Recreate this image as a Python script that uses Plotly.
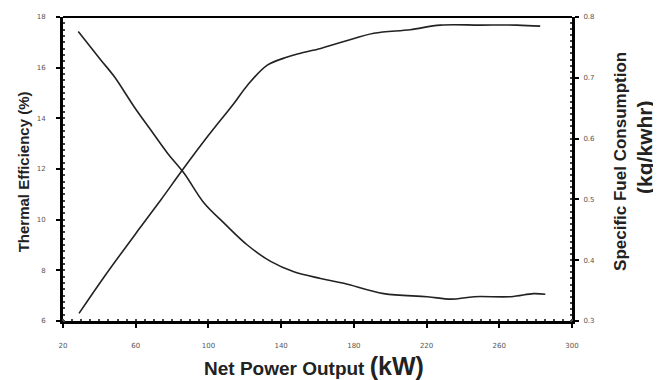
import plotly.graph_objects as go

# Thermal efficiency (%) vs net power output (kW)
eff_power = [28.8, 42.7, 62.8, 73.8, 85.7, 99.5, 114, 121.4, 132.4, 143.4, 150.7, 161.7, 174.5, 191, 211, 227.6, 249.5, 269.7, 282.5]
eff_value = [6.3, 7.75, 9.72, 10.78, 11.96, 13.28, 14.59, 15.3, 16.1, 16.42, 16.57, 16.76, 17.03, 17.36, 17.5, 17.68, 17.68, 17.68, 17.64]

# Specific fuel consumption (kg/kWhr) vs net power output (kW)
sfc_power = [28.4, 40.9, 48.2, 59.2, 68.3, 77.5, 86.6, 97.6, 108.6, 121.4, 134.2, 147, 161.7, 174.5, 196.4, 220.3, 233.4, 246.2, 266.4, 278.8, 285.3]
sfc_value = [0.776, 0.729, 0.702, 0.652, 0.614, 0.576, 0.543, 0.494, 0.461, 0.425, 0.398, 0.381, 0.370, 0.362, 0.345, 0.340, 0.336, 0.340, 0.340, 0.345, 0.344]

x_ticks = [20, 60, 100, 140, 180, 220, 260, 300]
eff_ticks = [6, 8, 10, 12, 14, 16, 18]
sfc_ticks = [0.3, 0.4, 0.5, 0.6, 0.7, 0.8]

fig = go.Figure()
fig.add_trace(go.Scatter(x=eff_power, y=eff_value, mode="lines",
                         line=dict(color="#222", width=1.6), line_shape="spline",
                         showlegend=False))
fig.add_trace(go.Scatter(x=sfc_power, y=sfc_value, mode="lines", yaxis="y2",
                         line=dict(color="#222", width=1.6), line_shape="spline",
                         showlegend=False))

tickfont = dict(family="DejaVu Sans", size=7, color="#555")
fig.update_layout(
    width=661, height=380,
    margin=dict(l=55, r=97, t=9, b=67),
    paper_bgcolor="white", plot_bgcolor="white",
    xaxis=dict(range=[20, 300], tickvals=x_ticks, ticktext=[str(v) for v in x_ticks],
               automargin=False,
               showgrid=False, zeroline=False, showline=True, linecolor="black", linewidth=3,
               ticks="outside", ticklen=4, tickwidth=2, tickcolor="black",
               tickfont=tickfont, ticklabelstandoff=12,
               minor=dict(ticks="inside", ticklen=2, tickcolor="#444", dtick=5)),
    yaxis=dict(range=[6, 18], tickvals=eff_ticks, ticktext=[str(v) for v in eff_ticks],
               automargin=False,
               showgrid=False, zeroline=False, showline=True, linecolor="black", linewidth=3,
               ticks="outside", ticklen=4, tickwidth=2, tickcolor="black",
               tickfont=tickfont, ticklabelstandoff=9,
               minor=dict(ticks="inside", ticklen=2, tickcolor="#444", dtick=0.25)),
    yaxis2=dict(range=[0.3, 0.8], tickvals=sfc_ticks, ticktext=[f"{v:.1f}" for v in sfc_ticks],
                overlaying="y", side="right", automargin=False,
                showgrid=False, zeroline=False, showline=True, linecolor="black", linewidth=3,
                ticks="outside", ticklen=4, tickwidth=2, tickcolor="black",
                tickfont=tickfont, ticklabelstandoff=3,
                minor=dict(ticks="inside", ticklen=2, tickcolor="#444", dtick=0.01)),
    shapes=[dict(type="line", xref="paper", yref="paper", x0=0, x1=1, y0=1, y1=1,
                 line=dict(color="black", width=2))],
    annotations=[
        dict(text="<b>Net Power Output </b><b><span style='font-size:25px'>(kW)</span></b>",
             xref="paper", yref="paper", x=0.494, y=-0.148, xanchor="center", yanchor="middle",
             showarrow=False, font=dict(family="Liberation Sans", size=19, color="#222")),
        dict(text="<b>Thermal Efficiency (%)</b>", textangle=-90,
             xref="paper", yref="paper", x=-0.078, y=0.49, xanchor="center", yanchor="middle",
             showarrow=False, font=dict(family="Liberation Sans", size=15, color="#222")),
        dict(text="<b>Specific Fuel Consumption</b>", textangle=-90,
             xref="paper", yref="paper", x=1.094, y=0.526, xanchor="center", yanchor="middle",
             showarrow=False, font=dict(family="Liberation Sans", size=17, color="#222")),
        dict(text="<b>(kg/kwhr)</b>", textangle=-90,
             xref="paper", yref="paper", x=1.141, y=0.572, xanchor="center", yanchor="middle",
             showarrow=False, font=dict(family="Liberation Sans", size=21, color="#222")),
    ],
)

fig.write_html("out.html")
